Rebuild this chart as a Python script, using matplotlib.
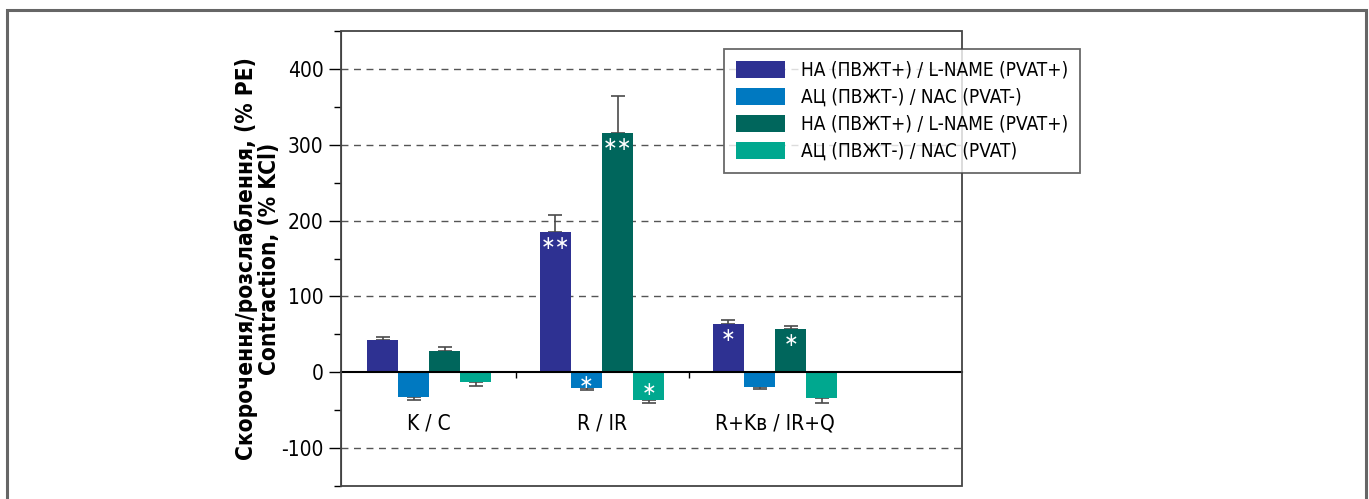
import matplotlib
matplotlib.use("Agg")
import matplotlib.pyplot as plt
from matplotlib.patches import Rectangle, Patch
from matplotlib.ticker import MultipleLocator
import numpy as np

# data
groups = ["K / C", "R / IR", "R+Kв / IR+Q"]
series = ["НА (ПВЖТ+) / L-NAME (PVAT+)",
          "АЦ (ПВЖТ-) / NAC (PVAT-)",
          "НА (ПВЖТ+) / L-NAME (PVAT+)",
          "АЦ (ПВЖТ-) / NAC (PVAT)"]
colors = ["#2e3192", "#0079c1", "#00665c", "#00a88f"]
values = [[43, 185, 63],
          [-32, -21, -19],
          [28, 315, 57],
          [-13, -36, -34]]
errors = [[4, 23, 6],
          [5, 2, 3],
          [5, 49, 4],
          [5, 4, 6]]
stars = [["", "**", "*"],
         ["", "*", ""],
         ["", "**", "*"],
         ["", "*", ""]]

plt.rcParams["font.family"] = ["DejaVu Sans"]
plt.rcParams["font.stretch"] = "condensed"
plt.rcParams["axes.unicode_minus"] = False

fig = plt.figure(figsize=(13.69, 4.99), dpi=100)
ax = fig.add_axes([341/1369, 1-486/499, (962-341)/1369, (486-31)/499])

x = np.arange(len(groups))
w = 0.18
for i in range(len(series)):
    xs = x + (i - 1.5) * w
    v = np.array(values[i])
    e = np.array(errors[i])
    ax.bar(xs, v, width=w, color=colors[i], zorder=3)
    lo = np.where(v < 0, e, 0)
    hi = np.where(v > 0, e, 0)
    ax.errorbar(xs, v, yerr=[lo, hi], fmt="none", ecolor="#4a4a4a",
                elinewidth=1.2, capsize=5, capthick=1.2, zorder=2)
    for xi, vi, s in zip(xs, v, stars[i]):
        if s:
            yy = vi - 15 if vi > 0 else vi * 0.62
            ax.text(xi, yy, "\u2217" * len(s), color="white", ha="center",
                    va="center", fontsize=14, zorder=4)

for g, xi in zip(groups, x):
    ax.text(xi, -68, g, ha="center", va="center", fontsize=15)

ax.set_xlim(-0.51, 3.08)
ax.set_ylim(-150, 450)
ax.yaxis.set_major_locator(MultipleLocator(100))
ax.yaxis.set_minor_locator(MultipleLocator(50))
ax.tick_params(axis="y", which="major", length=9, width=1, labelsize=15, direction="out")
ax.tick_params(axis="y", which="minor", length=5, width=1, direction="out")
for yv in [-100, 100, 200, 300, 400]:
    ax.axhline(yv, color="#555555", lw=1, ls=(0, (5, 4)), zorder=1)

ax.spines["bottom"].set_position(("data", 0))
ax.spines["bottom"].set_linewidth(1.5)
ax.spines["bottom"].set_zorder(3.5)
ax.set_xticks([0.5, 1.5])
ax.set_xticklabels([])
ax.tick_params(axis="x", length=4, width=1, direction="out")
ax.spines["top"].set_visible(False)
ax.spines["right"].set_visible(False)
ax.spines["left"].set_color("#333333")
ax.add_patch(Rectangle((0, 0), 1, 1, transform=ax.transAxes, fill=False,
                       edgecolor="#444444", lw=1.3, clip_on=False, zorder=5))

ax.set_ylabel("Скорочення/розслаблення, (% PE)\nContraction, (% KCl)",
              fontsize=16.3, fontweight="bold", linespacing=1.0, labelpad=0)

handles = [Patch(facecolor=c, edgecolor="none") for c in colors]
leg = fig.legend(handles, series, loc="upper left",
                 bbox_to_anchor=(724/1369, 1-49/499), fontsize=13.7,
                 frameon=True, fancybox=False, edgecolor="#444444",
                 handlelength=2.6, handleheight=1.0, labelspacing=0.42,
                 borderpad=0.62, handletextpad=0.85, borderaxespad=0)
leg.get_frame().set_linewidth(1.3)

fig.patches.append(Rectangle((7/1369, -0.1), (1366-7)/1369, 1.1 - 10/499,
                             transform=fig.transFigure, fill=False,
                             edgecolor="#666666", lw=2.2))

fig.savefig("out.png", dpi=100)
